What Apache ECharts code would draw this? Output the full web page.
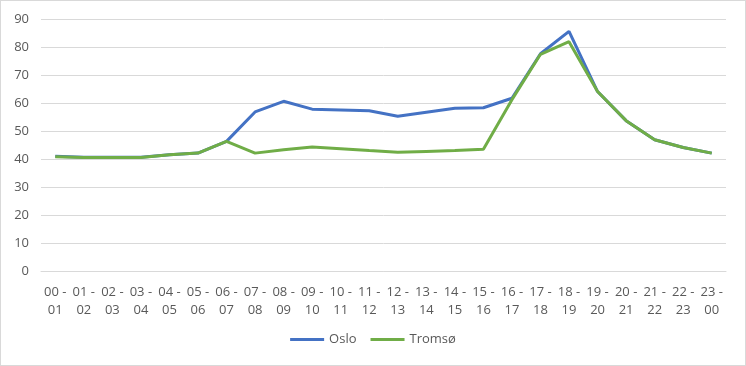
<!DOCTYPE html>
<html><head><meta charset="utf-8">
<script src="https://cdn.jsdelivr.net/npm/echarts@6/dist/echarts.min.js"></script>
<style>html,body{margin:0;padding:0;background:#fff}#c{width:746px;height:366px;box-sizing:border-box;border:1px solid #d9d9d9}</style>
</head><body><div id="c"></div>
<script>
const categories = ["00 - 01","01 - 02","02 - 03","03 - 04","04 - 05","05 - 06","06 - 07","07 - 08","08 - 09","09 - 10","10 - 11","11 - 12","12 - 13","13 - 14","14 - 15","15 - 16","16 - 17","17 - 18","18 - 19","19 - 20","20 - 21","21 - 22","22 - 23","23 - 00"];
const oslo = [41.0,40.6,40.6,40.6,41.5,42.1,46.3,56.8,60.6,57.8,57.5,57.2,55.3,56.7,58.1,58.3,61.7,77.6,85.6,64.1,53.7,46.9,44.1,42.1];
const tromso = [40.8,40.5,40.5,40.5,41.5,42.1,46.3,42.1,43.3,44.3,43.7,43.0,42.4,42.7,43.0,43.5,61.2,77.4,81.9,64.1,53.7,46.9,44.1,42.1];
const yTicks = {min:0, max:90, interval:10};
const font = "'Open Sans', 'Liberation Sans', sans-serif";
const chart = echarts.init(document.getElementById('c'));
chart.setOption({
  animation:false,
  grid:{left:40, right:19, top:18, bottom:94, containLabel:false},
  legend:{bottom:14, left:'center', itemWidth:34, itemHeight:3, itemGap:14,
    icon:'rect', padding:[5,0,5,8],
    textStyle:{color:'#595959', fontSize:13, fontFamily:font},
    data:['Oslo','Tromsø']},
  xAxis:{type:'category', data:categories, boundaryGap:true,
    axisLine:{lineStyle:{color:'#d9d9d9'}}, axisTick:{show:false},
    axisLabel:{color:'#595959', fontSize:13, fontFamily:font, interval:0, margin:12, lineHeight:18,
      formatter:v=>{const p=v.split(' - ');return p[0]+' -\n'+p[1];}}},
  yAxis:{type:'value', min:yTicks.min, max:yTicks.max, interval:yTicks.interval,
    axisLine:{show:false}, axisTick:{show:false},
    splitLine:{lineStyle:{color:'#d9d9d9', width:1}},
    axisLabel:{color:'#595959', fontSize:13, fontFamily:font, margin:12}},
  series:[
    {name:'Oslo', type:'line', data:oslo, showSymbol:false, symbol:'none',
      lineStyle:{color:'#4472C4', width:3}, itemStyle:{color:'#4472C4'}},
    {name:'Tromsø', type:'line', data:tromso, showSymbol:false, symbol:'none',
      lineStyle:{color:'#70AD47', width:3}, itemStyle:{color:'#70AD47'}}
  ]
});
</script></body></html>
